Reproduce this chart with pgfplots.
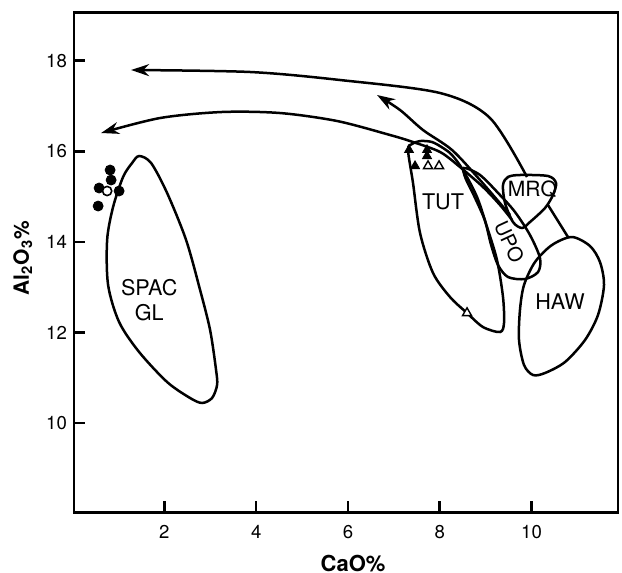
\documentclass[border=0pt]{standalone}
\usepackage{fontspec}
\setmainfont{TeX Gyre Heros}
\usepackage{pgfplots}
\pgfplotsset{compat=1.18}
\usetikzlibrary{arrows.meta}

\begin{document}
\begin{tikzpicture}
\begin{axis}[
    name=ax,
    scale only axis,
    width=272pt, height=249.8pt,
    xmin=0.03, xmax=11.885, ymin=8.031, ymax=19.06,
    xtick={2,4,6,8,10}, ytick={10,12,14,16,18},
    xtick pos=bottom, ytick pos=left,
    tick align=inside,
    major tick length=5.5pt,
    axis line style={line width=1.3pt},
    major tick style={black, line width=1.3pt},
    tick label style={font=\fontsize{9.3}{10}\selectfont},
    /pgf/number format/assume math mode=true,
    xticklabel style={yshift=-3pt},
    xlabel={\bfseries CaO\%},
    ylabel={\bfseries Al\textsubscript{2}O\textsubscript{3}\%},
    every axis x label/.style={at={(axis description cs:0.513,-0.102)}, anchor=center, font=\fontsize{11}{12}\selectfont},
    every axis y label/.style={at={(axis description cs:-0.094,0.509)}, anchor=center, rotate=90, font=\fontsize{10.5}{12}\selectfont},
    clip=false,
]

% fields
\addplot[line width=1.25pt, smooth cycle] coordinates {
    (1.449,15.896) (1.710,15.742) (2.059,15.080) (2.473,14.042) (2.778,12.938)
    (2.996,12.055) (3.126,11.172) (3.148,10.841) (3.039,10.554) (2.821,10.444)
    (2.560,10.554) (2.059,10.907) (1.449,11.570) (1.013,12.232) (0.773,13.049)
    (0.752,14.042) (0.882,14.772) (1.100,15.435) (1.296,15.742)};
\addplot[line width=1.25pt, smooth cycle] coordinates {
    (7.309,16.029) (7.397,16.161) (7.571,16.227) (7.832,16.205) (8.072,16.073)
    (8.268,15.918) (8.508,15.587) (8.813,14.991) (9.031,14.329) (9.248,13.600)
    (9.379,12.784) (9.401,12.210) (9.314,12.011) (8.943,12.121) (8.595,12.430)
    (8.224,12.784) (7.854,13.314) (7.571,14.197) (7.418,15.300)};
\addplot[line width=1.25pt, smooth cycle] coordinates {
    (8.529,15.631) (8.878,15.477) (9.314,15.035) (9.641,14.660) (9.967,14.152)
    (10.185,13.644) (10.142,13.335) (9.858,13.181) (9.488,13.225) (9.270,13.490)
    (9.120,13.932) (8.980,14.484) (8.740,15.035) (8.560,15.411)};
\addplot[line width=1.25pt, smooth cycle] coordinates {
    (9.379,15.256) (9.488,15.433) (9.749,15.477) (10.359,15.455) (10.534,15.300)
    (10.468,15.035) (10.294,14.748) (9.967,14.439) (9.793,14.307) (9.597,14.439)
    (9.423,14.859)};
\addplot[line width=1.25pt, smooth cycle] coordinates {
    (10.882,14.108) (11.275,13.909) (11.492,13.556) (11.580,13.048) (11.449,12.386)
    (11.166,11.834) (10.730,11.348) (10.294,11.106) (10.033,11.062) (9.837,11.282)
    (9.728,11.834) (9.749,12.499) (9.837,13.048) (10.076,13.556) (10.447,13.932)};
\addplot[line width=1.25pt] coordinates {(10.359,14.815) (10.795,14.108)};

% trends
\addplot[line width=1.25pt, smooth, -{Stealth[length=9pt,width=6pt]}] coordinates {
    (9.902,15.433) (9.096,16.735) (8.007,17.287) (5.828,17.574) (3.867,17.751) (1.275,17.795)};
\addplot[line width=1.25pt, smooth, -{Stealth[length=9pt,width=6pt]}] coordinates {
    (9.532,14.594) (8.878,15.366) (8.268,16.029) (7.636,16.470) (7.135,16.912) (6.634,17.243)};
\addplot[line width=1.25pt, smooth, -{Stealth[length=9pt,width=6pt]}] coordinates {
    (9.576,14.484) (9.314,14.815) (8.943,15.212) (8.442,15.653) (8.007,15.985)
    (7.418,16.205) (6.917,16.360) (5.763,16.669) (4.521,16.845) (3.257,16.868)
    (1.906,16.735) (0.621,16.404)};

% samples
\addplot[only marks, mark=*, mark size=2.5pt, mark options={fill=black}] coordinates {
    (0.817,15.587) (0.839,15.366) (0.577,15.190) (1.013,15.124) (0.556,14.792)};
\addplot[only marks, mark=*, mark size=2.3pt, mark options={fill=white, line width=0.8pt}] coordinates {
    (0.752,15.124)};
\addplot[only marks, mark=triangle*, mark size=2.6pt, mark options={fill=black}] coordinates {
    (7.331,16.029) (7.723,16.029) (7.723,15.896) (7.462,15.675)};
\addplot[only marks, mark=triangle*, mark size=2.6pt, mark options={fill=white, line width=0.7pt}] coordinates {
    (7.745,15.675) (7.985,15.675) (8.595,12.430)};

% field names
\node[font=\fontsize{10.8}{12.5}\selectfont, align=center] at (axis cs:1.67,12.72) {SPAC\\GL};
\node[font=\fontsize{10.8}{12}\selectfont] at (axis cs:8.072,14.878) {TUT};
\node[font=\fontsize{10.5}{12}\selectfont, inner sep=1pt] at (axis cs:10.02,15.16) {MRQ};
\node[font=\fontsize{10.8}{12}\selectfont] at (axis cs:10.621,12.673) {HAW};
\node[font=\fontsize{10}{11}\selectfont, rotate=-65, inner sep=0.5pt] at (axis cs:9.52,14.0) {UPO};
\end{axis}
\pgfresetboundingbox
\useasboundingbox ([shift={(-37pt,-30.35pt)}]ax.south west) rectangle ([shift={(2pt,6.35pt)}]ax.north east);
\end{tikzpicture}
\end{document}
